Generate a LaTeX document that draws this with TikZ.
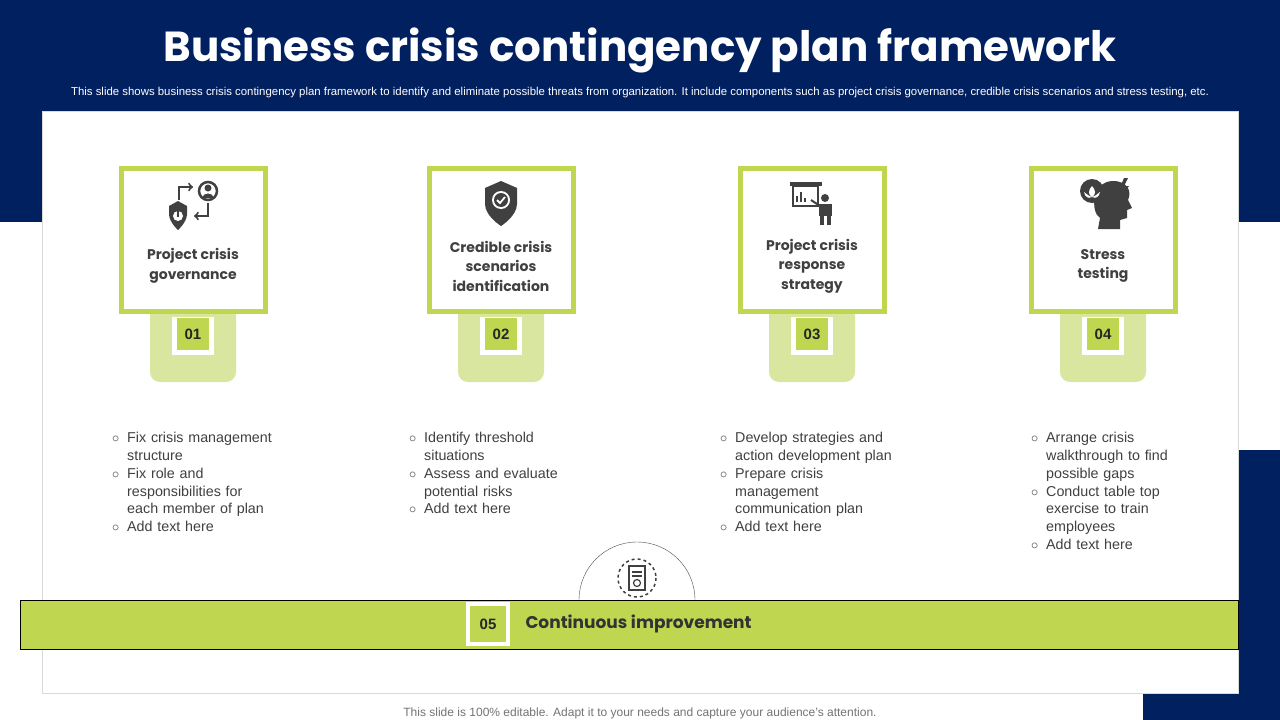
\documentclass[tikz,border=0pt]{standalone}
\usepackage{fontspec}
\setmainfont{Liberation Sans}
\newfontfamily\headfont{Poppins}
\usetikzlibrary{positioning}
\definecolor{navy}{RGB}{0,32,96}
\definecolor{lime}{RGB}{190,214,80}
\definecolor{palelime}{RGB}{217,230,160}
\definecolor{ink}{RGB}{64,64,64}
\tikzset{
  cardbox/.style={draw=lime,line width=5pt,fill=white,minimum width=144pt,minimum height=143pt},
  numbox/.style={fill=lime,minimum size=32pt,inner sep=0pt,font=\fontsize{15}{15}\selectfont\bfseries,text=black!85},
  cardtitle/.style={align=center,font=\headfont\fontsize{14}{19.5}\selectfont\bfseries,text=ink},
  bullets/.style={align=left,anchor=north west,text width=180pt,font=\fontsize{14.3}{17.7}\selectfont,text=ink,inner sep=0pt},
  icon/.style={fill=ink,draw=none}
}
\newcommand{\bulletlist}[2]{\begin{list}{$\circ$}{\leftmargin=17pt\labelsep=8pt\rightmargin=#1\itemsep=0pt\parsep=0pt\topsep=0pt}#2\end{list}}
\begin{document}
\begin{tikzpicture}[x=1pt,y=-1pt]
  \useasboundingbox (0,0) rectangle (1280,720);
  % background
  \fill[navy] (0,0) rectangle (1280,222);
  \fill[navy] (1143,450) rectangle (1280,720);
  \fill[white,draw=black!15] (42,111) rectangle (1238,693);
  \node[text=white,font=\headfont\fontsize{42}{42}\selectfont\bfseries] (title) at (640,50) {Business crisis contingency plan framework};
  \node[text=white,font=\fontsize{11.4}{11.4}\selectfont] (sub) at (640,93) {This slide shows business crisis contingency plan framework to identify and eliminate possible threats from organization. It include components such as project crisis governance, credible crisis scenarios and stress testing, etc.};
  \node[text=black!55,font=\fontsize{12}{12}\selectfont] (foot) at (640,713) {This slide is 100\% editable. Adapt it to your needs and capture your audience's attention.};

  % cards
  \foreach \cx/\n/\ttl/\bx/\rm/\items in {
    193/01/{Project crisis\\governance}/110/0pt/{\item Fix crisis management\newline structure \item Fix role and\newline responsibilities for\newline each member of plan \item Add text here},
    501/02/{Credible crisis\\scenarios\\identification}/407/0pt/{\item Identify threshold\newline situations \item Assess and evaluate\newline potential risks \item Add text here},
    812/03/{Project crisis\\response\\strategy}/718/0pt/{\item Develop strategies and\newline action development plan \item Prepare crisis\newline management\newline communication plan \item Add text here},
    1103/04/{Stress\\testing}/1029/0pt/{\item Arrange crisis\newline walkthrough to find\newline possible gaps \item Conduct table top\newline exercise to train\newline employees \item Add text here}}{
    \fill[palelime,rounded corners=10pt] (\cx-43,300) rectangle (\cx+43,382);
    \fill[palelime] (\cx-43,300) rectangle (\cx+43,340);
    \node[cardbox] (card\n) at (\cx,240) {};
    \fill[white] (\cx-21,317) rectangle (\cx+21,355);
    \node[numbox] (num\n) at (\cx,334) {\n};
    \node[cardtitle] (ttl\n) at (\cx,266) {\ttl};
    \node[bullets] (list\n) at (\bx,425) {\bulletlist{\rm}{\items}};
  }

  % icons
  % 01 shield + person
  \fill[ink] (169,206) -- (178,201) -- (187,206) -- (187,214) .. controls (187,222) and (178,230) .. (178,230) .. controls (178,230) and (169,222) .. (169,214) -- cycle;
  \fill[white] (178,216) circle (5);
  \fill[ink] (176.8,211) rectangle (179.2,217);
  \draw[ink,line width=2.5pt] (208,191) circle (9);
  \fill[ink] (208,188) circle (3.5);
  \fill[ink] (202,198) .. controls (203,192) and (213,192) .. (214,198) -- cycle;
  \draw[ink,line width=2pt,->] (179,200) -- (179,187) -- (193,187);
  \draw[ink,line width=2pt,->] (208,203) -- (208,216) -- (194,216);
  % 02 badge
  \fill[ink] (501,181) -- (517,188) -- (517,204) .. controls (517,216) and (501,226) .. (501,226) .. controls (501,226) and (485,216) .. (485,204) -- (485,188) -- cycle;
  \fill[white] (501,200) circle (9);
  \fill[ink] (501,200) circle (7);
  \draw[white,line width=1.8pt] (497,200) -- (500,203) -- (505,197);
  % 03 presentation
  \fill[ink] (790,182) rectangle (822,186);
  \draw[ink,line width=2pt] (793,186) rectangle (818,206);
  \draw[ink,line width=1.2pt] (797,202) -- (797,196) (801,202) -- (801,192) (805,202) -- (805,198);
  \fill[ink] (825,198) circle (4);
  \fill[ink] (819,204) rectangle (832,216);
  \fill[ink] (820,216) rectangle (824,225);
  \fill[ink] (827,216) rectangle (831,225);
  \draw[ink,line width=2pt] (820,206) -- (811,200);
  % 04 head
  \fill[ink] (1113,181) .. controls (1128,181) and (1132,192) .. (1128,200) -- (1132,208) -- (1127,210) -- (1127,218) -- (1120,220) -- (1120,229) -- (1098,229) -- (1100,218) .. controls (1090,212) and (1092,181) .. (1113,181) -- cycle;
  \fill[ink] (1092,191) circle (12);
  \fill[white] (1092,186) .. controls (1096,190) and (1096,195) .. (1092,197) .. controls (1088,195) and (1088,190) .. (1092,186) -- cycle;
  \fill[white] (1084,192) .. controls (1088,195) and (1090,197) .. (1092,197) .. controls (1088,199) and (1085,197) .. (1084,192) -- cycle;
  \fill[white] (1100,192) .. controls (1096,195) and (1094,197) .. (1092,197) .. controls (1096,199) and (1099,197) .. (1100,192) -- cycle;
  \fill[ink] (1124,178) -- (1119,190) -- (1124,190) -- (1120,200) -- (1129,186) -- (1124,186) -- (1128,178) -- cycle;

  % bottom bar
  \draw[black!70,fill=white] (579,600) arc (180:360:58);
  \draw[ink,line width=1.5pt,dashed] (637,578) circle (19);
  \draw[ink,line width=1.5pt,fill=white] (629,566) rectangle (645,590);
  \draw[ink,line width=1.2pt] (632,572) -- (642,572) (632,576) -- (642,576);
  \draw[ink,line width=1.2pt] (637,583) circle (3.5);
  \node[draw=black,fill=lime,minimum width=1218pt,minimum height=49pt,anchor=west] (bar) at (20,624.5) {};
  \node[fill=white,minimum size=44pt,inner sep=0pt] (frame05) at (488,624) {};
  \node[numbox,minimum size=36pt] (num05) at (frame05) {05};
  \node[anchor=west,font=\headfont\fontsize{17}{17}\selectfont\bfseries,text=black!80] (ttl05) at (522,624) {Continuous improvement};
\end{tikzpicture}
\end{document}
